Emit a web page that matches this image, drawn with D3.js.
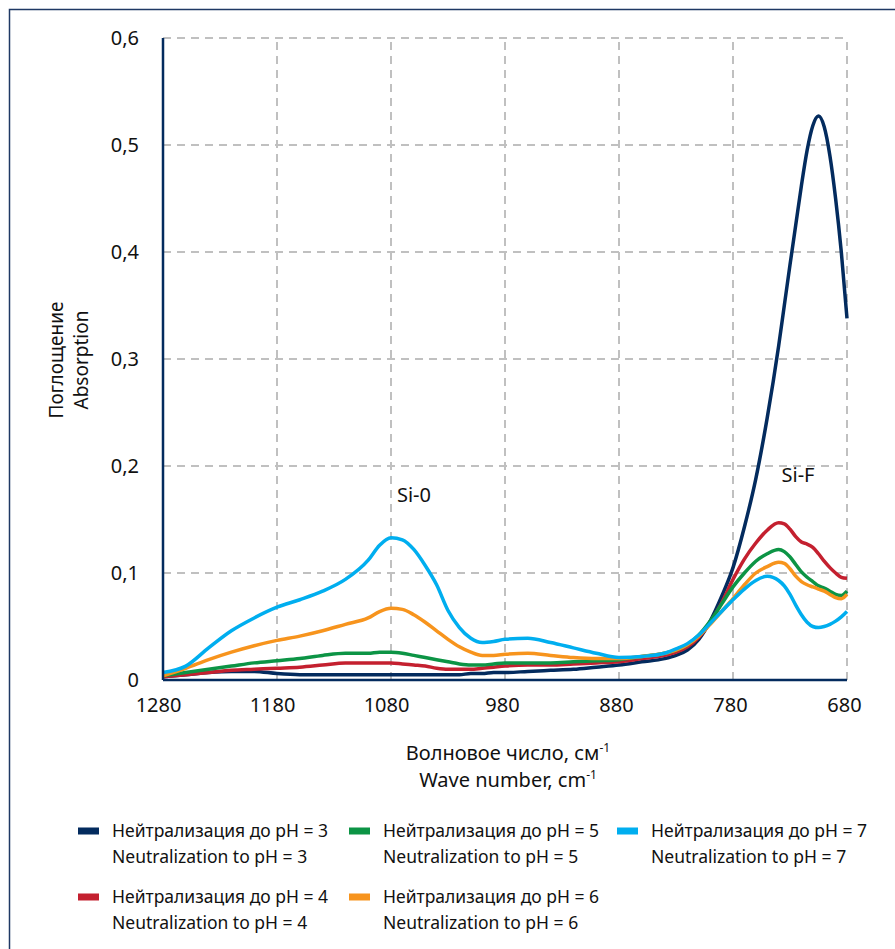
<!DOCTYPE html>
<html>
<head>
<meta charset="utf-8">
<script src="https://cdn.jsdelivr.net/npm/d3@7"></script>
<style>
body{margin:0;background:#fff;}
text{font-family:"Noto Sans",sans-serif;fill:#111;}
</style>
</head>
<body>
<script>
var width = 895;
var height = 949;

// wave numbers, cm-1
var waveNumbers = [1280,1260,1240,1220,1200,1180,1160,1140,1120,1100,
1090,1080,1070,1060,1050,1040,1030,1020,1010,1000,990,980,
960,940,920,900,880,860,840,
830,820,810,800,790,780,770,760,750,
740,735,730,725,720,715,710,705,700,695,690,685,680];

var ph3 = [0.003,0.005,0.007,0.008,0.008,0.006,0.005,0.005,0.005,0.005,
0.005,0.005,0.005,0.005,0.005,0.005,0.005,0.005,0.006,0.006,0.007,0.007,
0.008,0.009,0.010,0.012,0.014,0.017,0.020,
0.023,0.028,0.038,0.055,0.078,0.105,0.143,0.188,0.245,
0.312,0.350,0.388,0.425,0.462,0.495,0.518,0.527,0.517,0.490,0.450,0.400,0.338];

var ph4 = [0.003,0.005,0.007,0.009,0.010,0.011,0.012,0.014,0.016,0.016,
0.016,0.016,0.015,0.014,0.013,0.011,0.010,0.010,0.010,0.011,0.012,0.013,
0.014,0.014,0.015,0.016,0.017,0.020,0.023,
0.026,0.031,0.040,0.054,0.072,0.094,0.113,0.128,0.140,
0.147,0.146,0.141,0.134,0.129,0.127,0.124,0.118,0.111,0.105,0.100,0.096,0.095];

var ph5 = [0.004,0.007,0.010,0.013,0.016,0.018,0.020,0.023,0.025,0.025,
0.026,0.026,0.025,0.023,0.021,0.019,0.017,0.015,0.014,0.014,0.015,0.016,
0.016,0.016,0.017,0.018,0.019,0.022,0.025,
0.028,0.033,0.042,0.055,0.071,0.087,0.100,0.111,0.118,
0.122,0.120,0.115,0.108,0.101,0.096,0.092,0.088,0.086,0.083,0.080,0.079,0.083];

var ph6 = [0.004,0.011,0.019,0.026,0.032,0.037,0.041,0.046,0.052,0.058,
0.064,0.067,0.066,0.061,0.054,0.046,0.038,0.031,0.026,0.023,0.023,0.024,
0.025,0.023,0.021,0.020,0.020,0.022,0.025,
0.028,0.033,0.041,0.052,0.064,0.076,0.089,0.100,0.106,
0.110,0.109,0.104,0.097,0.092,0.089,0.087,0.085,0.083,0.080,0.077,0.076,0.080];

var ph7 = [0.007,0.013,0.030,0.046,0.058,0.068,0.075,0.083,0.094,0.112,
0.126,0.133,0.131,0.122,0.107,0.089,0.065,0.049,0.039,0.035,0.036,0.038,
0.039,0.035,0.030,0.025,0.021,0.022,0.025,
0.029,0.034,0.042,0.053,0.064,0.075,0.085,0.093,0.097,
0.093,0.088,0.080,0.070,0.061,0.054,0.050,0.049,0.050,0.052,0.055,0.059,0.064];

var seriesRu = ["Нейтрализация до pH = 3","Нейтрализация до pH = 4","Нейтрализация до pH = 5",
"Нейтрализация до pH = 6","Нейтрализация до pH = 7"];
var seriesEn = ["Neutralization to pH = 3","Neutralization to pH = 4","Neutralization to pH = 5",
"Neutralization to pH = 6","Neutralization to pH = 7"];
var colors = ["#032b5e","#c4202f","#0c9445","#f7941d","#00aeef"];

var xTicks = [1280,1180,1080,980,880,780,680];
var yTicks = [0,0.1,0.2,0.3,0.4,0.5,0.6];
var yTickLabels = ["0","0,1","0,2","0,3","0,4","0,5","0,6"];

var series = [ph3,ph4,ph5,ph6,ph7];

var padding = {top:38,right:48,bottom:269,left:163};

var xScale = d3.scaleLinear()
.domain([1280,680])
.range([padding.left,width - padding.right]);

var yScale = d3.scaleLinear()
.domain([0,0.6])
.range([height - padding.bottom,padding.top]);

var svg = d3.select("body")
.append("svg")
.attr("width",width)
.attr("height",height);

// frame
svg.append("path")
.attr("d","M9.5," + height + "V9.5H" + width)
.attr("stroke","#1f3864")
.attr("stroke-width",1.5)
.attr("fill","none");

// grid
svg.selectAll(".vgrid")
.data(xTicks.slice(1))
.enter()
.append("line")
.attr("x1",function(d){ return xScale(d); })
.attr("x2",function(d){ return xScale(d); })
.attr("y1",yScale(0))
.attr("y2",yScale(0.6))
.attr("stroke","#c0c0c0")
.attr("stroke-width",2)
.attr("stroke-dasharray","8,6");

svg.selectAll(".hgrid")
.data(yTicks.slice(1))
.enter()
.append("line")
.attr("x1",xScale(1280))
.attr("x2",xScale(680))
.attr("y1",function(d){ return yScale(d); })
.attr("y2",function(d){ return yScale(d); })
.attr("stroke","#c0c0c0")
.attr("stroke-width",2)
.attr("stroke-dasharray","8,6");

// axes
var xAxis = d3.axisBottom(xScale)
.tickValues(xTicks)
.tickSize(0)
.tickPadding(18)
.tickFormat(function(d){ return d; });

var yAxis = d3.axisLeft(yScale)
.tickValues(yTicks)
.tickSize(0)
.tickPadding(24)
.tickFormat(function(d,i){ return yTickLabels[i]; });

var gx = svg.append("g")
.attr("transform","translate(0," + yScale(0) + ")")
.call(xAxis);
gx.select(".domain").remove();
gx.selectAll("text")
.attr("font-size","20px")
.attr("fill","#111")
.attr("dx",function(d){ return d >= 1000 ? -5 : -3; });

var gy = svg.append("g")
.attr("transform","translate(" + xScale(1280) + ",0)")
.call(yAxis);
gy.select(".domain").remove();
gy.selectAll("text").attr("font-size","20px").attr("fill","#111");

// data lines
var line = d3.line()
.x(function(d,i){ return xScale(waveNumbers[i]); })
.y(function(d){ return yScale(d); })
.curve(d3.curveMonotoneX);

svg.selectAll(".series")
.data(series)
.enter()
.append("path")
.attr("d",function(d){ return line(d); })
.attr("stroke",function(d,i){ return colors[i]; })
.attr("stroke-width",3.5)
.attr("stroke-linejoin","round")
.attr("fill","none");

// axis lines on top
svg.append("line")
.attr("x1",xScale(1280))
.attr("x2",xScale(1280))
.attr("y1",yScale(0))
.attr("y2",yScale(0.6))
.attr("stroke","#032b5e")
.attr("stroke-width",2.5);

svg.append("line")
.attr("x1",xScale(1280))
.attr("x2",xScale(680))
.attr("y1",yScale(0))
.attr("y2",yScale(0))
.attr("stroke","#032b5e")
.attr("stroke-width",2.5);

// band labels
svg.append("text")
.attr("x",414)
.attr("y",502)
.attr("font-size","20px")
.attr("text-anchor","middle")
.text("Si-0");

svg.append("text")
.attr("x",798)
.attr("y",482)
.attr("font-size","20px")
.attr("text-anchor","middle")
.text("Si-F");

// axis titles
var xt = svg.append("text")
.attr("x",508)
.attr("y",760)
.attr("font-size","20px")
.attr("text-anchor","middle");
xt.append("tspan").text("Волновое число, см");
xt.append("tspan").attr("font-size","12px").attr("dy","-8").text("-1");

var xt2 = svg.append("text")
.attr("x",508)
.attr("y",787)
.attr("font-size","20px")
.attr("text-anchor","middle");
xt2.append("tspan").text("Wave number, cm");
xt2.append("tspan").attr("font-size","12px").attr("dy","-8").text("-1");

var yt = svg.append("g")
.attr("transform","translate(63,360) rotate(-90)");
yt.append("text")
.attr("x",0)
.attr("y",0)
.attr("font-size","19px")
.attr("text-anchor","middle")
.text("Поглощение");
yt.append("text")
.attr("x",0)
.attr("y",25)
.attr("font-size","19px")
.attr("text-anchor","middle")
.text("Absorption");

// legend: column-wise, 2 rows
var legendX = [78,349,617];
var legendY = [831,897];

var legend = svg.selectAll(".legend")
.data(seriesRu)
.enter()
.append("g")
.attr("transform",function(d,i){
	var col = Math.floor(i / 2);
	var row = i % 2;
	return "translate(" + legendX[col] + "," + legendY[row] + ")";
});

legend.append("rect")
.attr("x",0)
.attr("y",-3.5)
.attr("width",21)
.attr("height",7)
.attr("fill",function(d,i){ return colors[i]; });

legend.append("text")
.attr("x",34)
.attr("y",6)
.attr("font-size","17.5px")
.text(function(d){ return d; });

legend.append("text")
.attr("x",34)
.attr("y",32)
.attr("font-size","17.5px")
.text(function(d,i){ return seriesEn[i]; });
</script>
</body>
</html>
